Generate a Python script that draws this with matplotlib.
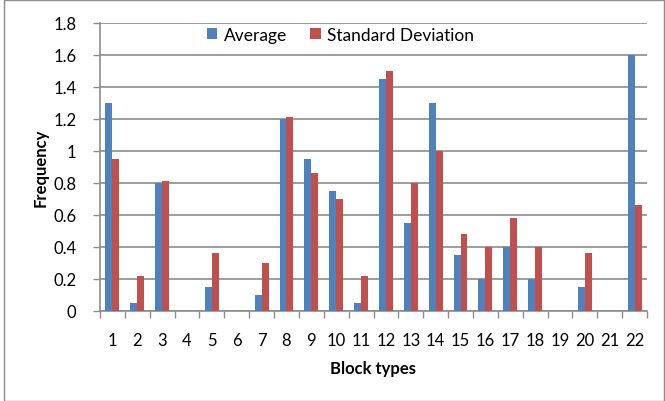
import matplotlib.pyplot as plt
import numpy as np
from matplotlib.patches import Rectangle

block_types = [str(i) for i in range(1, 23)]
average = [1.3, 0.05, 0.8, 0, 0.15, 0, 0.1, 1.2, 0.95, 0.75, 0.05,
           1.45, 0.55, 1.3, 0.35, 0.2, 0.4, 0.2, 0, 0.15, 0, 1.6]
std_dev = [0.95, 0.22, 0.81, 0, 0.36, 0, 0.3, 1.21, 0.86, 0.7, 0.22,
           1.5, 0.8, 1.0, 0.48, 0.4, 0.58, 0.4, 0, 0.36, 0, 0.66]
y_ticks = [0, 0.2, 0.4, 0.6, 0.8, 1, 1.2, 1.4, 1.6, 1.8]

plt.rcParams["font.family"] = ["Lato", "DejaVu Sans"]

fig = plt.figure(figsize=(6.65, 4.02), dpi=100)
ax = fig.add_axes([100 / 665, 1 - 312 / 402, 547 / 665, 288 / 402])

x = np.arange(len(block_types))
w = 0.28
ax.bar(x - w / 2, average, width=w, color="#4F81BD", label="Average", zorder=3)
ax.bar(x + w / 2, std_dev, width=w, color="#C0504D", label="Standard Deviation", zorder=3)

ax.set_xlim(-0.5, len(block_types) - 0.5)
ax.set_ylim(0, 1.8)
ax.set_yticks(y_ticks)
ax.set_yticklabels([f"{v:g}" for v in y_ticks], fontsize=12)
ax.yaxis.grid(True, color="#8c8c8c", linewidth=1.2, zorder=0)

# category labels between boundary ticks
ax.set_xticks(np.arange(-0.5, len(block_types)), minor=False)
ax.set_xticklabels([])
ax.set_xticks(x, minor=True)
ax.set_xticklabels(block_types, minor=True, fontsize=12)
ax.tick_params(axis="x", which="minor", length=0, pad=15)
ax.tick_params(axis="x", which="major", length=5, color="#8c8c8c", width=1)
ax.tick_params(axis="y", length=5, color="#8c8c8c", width=1, pad=12)

for side in ["top", "right"]:
    ax.spines[side].set_visible(False)
for side in ["left", "bottom"]:
    ax.spines[side].set_color("#8c8c8c")
    ax.spines[side].set_linewidth(1.2)

ax.set_xlabel("Block types", fontsize=12, fontweight="bold", labelpad=9)
ax.set_ylabel("Frequency", fontsize=12, fontweight="bold", labelpad=3)

ax.legend(loc="center", bbox_to_anchor=(0.44, 0.96), ncol=2, frameon=False,
          fontsize=12.5, handlelength=0.6, handleheight=0.6, handletextpad=0.4,
          columnspacing=1.3)

fig.patches.append(Rectangle((4 / 665, 0.5 / 402), 1 - 5 / 665, 1 - 1.5 / 402,
                             transform=fig.transFigure, fill=False,
                             edgecolor="#8c8c8c", linewidth=1))

fig.savefig("out.png", dpi=100)
